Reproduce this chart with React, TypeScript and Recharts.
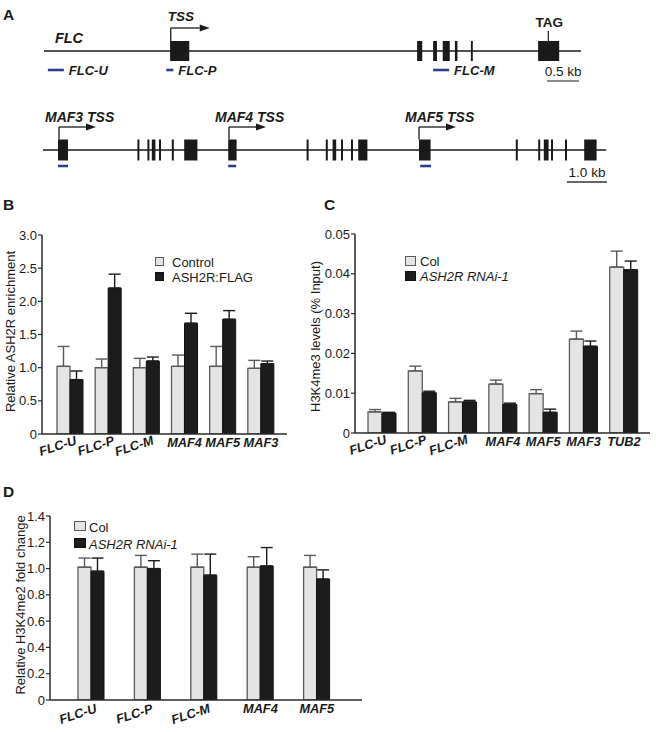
import React from 'react';
import {
  ComposedChart, BarChart, Bar, Line, XAxis, YAxis, ErrorBar, Legend,
  ReferenceArea, ReferenceLine, ReferenceDot,
} from 'recharts';

const FONT = '"Liberation Sans", Arial, Helvetica, sans-serif';
const INK = '#1a1a1a';
const AXIS = '#2a2a2a';
const PRIMER = '#2f3d8f';
const LIGHT = '#e4e4e4';
const LIGHT_EDGE = '#5a5a5a';
const DARK = '#1c1c1c';

// ---------------- Panel A : FLC locus (kb) ----------------
const flcLengthKb = 8.39;
const flcExons = [[1.97, 2.27], [5.83, 5.91], [6.08, 6.14], [6.23, 6.34], [6.42, 6.46], [6.67, 6.7], [7.72, 8.05]];
const flcPrimerNames = ['FLC-U', 'FLC-P', 'FLC-M'];
const flcPrimerStarts = [0.06, 1.91, 6.08];
const flcPrimerEnds = [0.31, 2.02, 6.33];
const flcTssLabels = ['TSS'];
const flcTssKb = [1.98];
const flcTagKb = 7.88;
const flcScaleBar = [7.86, 8.36];

// ---------------- Panel A : MAF3-MAF5 cluster (kb) ----------------
const mafLengthKb = 14.08;
const mafExons = [
  [0.375, 0.625], [2.36, 2.41], [2.61, 2.66], [2.72, 2.81], [2.9, 2.95], [3.22, 3.27], [3.53, 3.86],
  [4.63, 4.84], [6.59, 6.64], [7.07, 7.12], [7.24, 7.33], [7.45, 7.5], [7.7, 7.75], [7.88, 8.11],
  [9.4, 9.69], [11.82, 11.87], [12.38, 12.43], [12.52, 12.64], [12.7, 12.75], [13.05, 13.1], [13.53, 13.84],
];
const mafPrimerNames = ['', '', ''];
const mafPrimerStarts = [0.375, 4.63, 9.43];
const mafPrimerEnds = [0.625, 4.83, 9.7];
const mafTssLabels = ['MAF3 TSS', 'MAF4 TSS', 'MAF5 TSS'];
const mafTssKb = [0.4, 4.65, 9.4];
const mafScaleBar = [13.1, 14.1];

// ---------------- Panel B ----------------
const bCategories = ['FLC-U', 'FLC-P', 'FLC-M', 'MAF4', 'MAF5', 'MAF3'];
const bControl = [1.02, 1.0, 1.0, 1.02, 1.02, 0.99];
const bControlErr = [0.3, 0.13, 0.14, 0.17, 0.3, 0.12];
const bFlag = [0.82, 2.2, 1.1, 1.67, 1.73, 1.06];
const bFlagErr = [0.13, 0.21, 0.06, 0.15, 0.13, 0.04];
const bTicks = [0, 0.5, 1, 1.5, 2, 2.5, 3];

// ---------------- Panel C ----------------
const cCategories = ['FLC-U', 'FLC-P', 'FLC-M', 'MAF4', 'MAF5', 'MAF3', 'TUB2'];
const cCol = [0.0053, 0.0156, 0.0078, 0.0123, 0.0099, 0.0236, 0.0417];
const cColErr = [0.0006, 0.0012, 0.0009, 0.001, 0.001, 0.002, 0.004];
const cRnai = [0.005, 0.0101, 0.0078, 0.0072, 0.0052, 0.0218, 0.041];
const cRnaiErr = [0.0002, 0.0004, 0.0004, 0.0003, 0.0008, 0.0013, 0.0022];
const cTicks = [0, 0.01, 0.02, 0.03, 0.04, 0.05];

// ---------------- Panel D ----------------
const dCategories = ['FLC-U', 'FLC-P', 'FLC-M', 'MAF4', 'MAF5'];
const dCol = [1.01, 1.01, 1.01, 1.01, 1.01];
const dColErr = [0.07, 0.09, 0.1, 0.08, 0.09];
const dRnai = [0.98, 1.0, 0.95, 1.02, 0.92];
const dRnaiErr = [0.1, 0.06, 0.16, 0.14, 0.07];
const dTicks = [0, 0.2, 0.4, 0.6, 0.8, 1.0, 1.2, 1.4];

const bData = bCategories.map((name, i) => ({
  name, a: bControl[i], aErr: [0, bControlErr[i]], b: bFlag[i], bErr: [0, bFlagErr[i]],
}));
const cData = cCategories.map((name, i) => ({
  name, a: cCol[i], aErr: [0, cColErr[i]], b: cRnai[i], bErr: [0, cRnaiErr[i]],
}));
const dData = dCategories.map((name, i) => ({
  name, a: dCol[i], aErr: [0, dColErr[i]], b: dRnai[i], bErr: [0, dRnaiErr[i]],
}));

const labelStyle = (size: number, bold: boolean, italic: boolean) => ({
  fontFamily: FONT, fontSize: size, fontWeight: bold ? 'bold' : 'normal',
  fontStyle: italic ? 'italic' : 'normal', fill: INK,
});

const textShape = (txt: string, dx: number, dy: number, size: number, bold: boolean, italic: boolean, anchor = 'start') =>
  (p: any) => (
    <text x={p.cx + dx} y={p.cy + dy} textAnchor={anchor} {...labelStyle(size, bold, italic)}>{txt}</text>
  );

const arrowHead = (p: any) => (
  <polygon points={`${p.cx - 10},${p.cy - 3.5} ${p.cx},${p.cy} ${p.cx - 10},${p.cy + 3.5}`} fill={INK} />
);

type TrackProps = {
  top: number; height: number; lineY: number; leftPx: number; pxPerKb: number; lengthKb: number;
  exons: number[][]; exonHalf: number;
  primerStarts: number[]; primerEnds: number[]; primerNames: string[]; primerDy: number;
  tssKb: number[]; tssLabels: string[]; arrowRise: number; arrowTipKb: number; tssDx: number; tssDy: number; tssFont: number;
  scaleBar: number[]; scaleLabel: string; scaleDy: number; scaleTextDy: number; scaleWidth: number;
  geneName?: string; geneNameKb?: number; tagKb?: number;
};

function GeneTrack(t: TrackProps) {
  const W = 656;
  const domainX = [-t.leftPx / t.pxPerKb, (W - t.leftPx) / t.pxPerKb];
  const data = [{ kb: 0, y: 0 }, { kb: t.lengthKb, y: 0 }];
  const headKb = 10 / t.pxPerKb;
  return (
    <div style={{ position: 'absolute', left: 0, top: t.top }}>
      <ComposedChart width={W} height={t.height} data={data} margin={{ top: 0, right: 0, bottom: 0, left: 0 }}>
        <XAxis dataKey="kb" type="number" domain={domainX} allowDataOverflow hide />
        <YAxis type="number" domain={[-t.lineY, t.height - t.lineY]} allowDataOverflow reversed hide />
        <Line dataKey="y" stroke={INK} strokeWidth={1.5} dot={false} activeDot={false} isAnimationActive={false} />
        {t.exons.map((e, i) => (
          <ReferenceArea key={'ex' + i} x1={e[0]} x2={e[1]} y1={-t.exonHalf} y2={t.exonHalf}
            fill={INK} fillOpacity={1} stroke="none" ifOverflow="visible" />
        ))}
        {t.primerStarts.map((s, i) => (
          <ReferenceLine key={'pr' + i} segment={[{ x: s, y: t.primerDy }, { x: t.primerEnds[i], y: t.primerDy }]}
            stroke={PRIMER} strokeWidth={2.6} ifOverflow="visible" />
        ))}
        {t.primerNames.map((n, i) => n ? (
          <ReferenceDot key={'pl' + i} x={t.primerEnds[i]} y={t.primerDy} r={0} ifOverflow="visible"
            shape={textShape(n, 5, 4.5, 13, true, true)} />
        ) : null)}
        {t.tssKb.map((k, i) => (
          <ReferenceLine key={'tv' + i} segment={[{ x: k, y: -t.exonHalf }, { x: k, y: -t.arrowRise }]}
            stroke={INK} strokeWidth={1.3} ifOverflow="visible" />
        ))}
        {t.tssKb.map((k, i) => (
          <ReferenceLine key={'th' + i} segment={[{ x: k, y: -t.arrowRise }, { x: k + t.arrowTipKb - headKb, y: -t.arrowRise }]}
            stroke={INK} strokeWidth={1.3} ifOverflow="visible" />
        ))}
        {t.tssKb.map((k, i) => (
          <ReferenceDot key={'ta' + i} x={k + t.arrowTipKb} y={-t.arrowRise} r={0} ifOverflow="visible" shape={arrowHead} />
        ))}
        {t.tssKb.map((k, i) => (
          <ReferenceDot key={'tl' + i} x={k} y={-t.arrowRise} r={0} ifOverflow="visible"
            shape={textShape(t.tssLabels[i], t.tssDx, t.tssDy, t.tssFont, true, true)} />
        ))}
        {t.geneName && t.geneNameKb !== undefined ? (
          <ReferenceDot x={t.geneNameKb} y={-8} r={0} ifOverflow="visible" shape={textShape(t.geneName, 0, 0, 14.5, true, true)} />
        ) : null}
        {t.tagKb !== undefined ? (
          <ReferenceLine segment={[{ x: t.tagKb, y: -t.exonHalf }, { x: t.tagKb, y: -t.exonHalf - 10 }]}
            stroke={INK} strokeWidth={1.2} ifOverflow="visible" />
        ) : null}
        {t.tagKb !== undefined ? (
          <ReferenceDot x={t.tagKb} y={-t.exonHalf - 10} r={0} ifOverflow="visible"
            shape={textShape('TAG', 1, -4, 13.5, true, false, 'middle')} />
        ) : null}
        <ReferenceLine segment={[{ x: t.scaleBar[0], y: t.scaleDy }, { x: t.scaleBar[1], y: t.scaleDy }]}
          stroke="#666" strokeWidth={t.scaleWidth} ifOverflow="visible" />
        <ReferenceDot x={(t.scaleBar[0] + t.scaleBar[1]) / 2} y={t.scaleDy} r={0} ifOverflow="visible"
          shape={textShape(t.scaleLabel, 0, t.scaleTextDy - t.scaleDy, 13.5, false, false, 'middle')} />
      </ComposedChart>
    </div>
  );
}

const X_FONT = 12.8;

const renderXTick = (rotDx: number, rotDy: number, flatDy: number) => (p: any) => {
  const v = String(p.payload.value);
  const st = labelStyle(X_FONT, true, true);
  if (v.startsWith('FLC')) {
    const tx = p.x + rotDx;
    const ty = p.y + rotDy;
    return <text x={tx} y={ty} transform={`rotate(-18 ${tx} ${ty})`} textAnchor="middle" {...st}>{v}</text>;
  }
  return <text x={p.x} y={p.y + flatDy} textAnchor="middle" {...st}>{v}</text>;
};

const renderYTick = (decimals: number) => (p: any) => {
  const v = Number(p.payload.value);
  const txt = v === 0 ? '0' : v.toFixed(decimals);
  return <text x={p.x} y={p.y + 4.6} textAnchor="end" {...labelStyle(13, false, false)}>{txt}</text>;
};

type Series = { name: string; fill: string; stroke: string; italic: boolean };

const legendContent = (series: Series[], sw: number, sh: number, gap: number, row: number) => () => (
  <div style={{ fontFamily: FONT, fontSize: 13, color: INK }}>
    {series.map((s, i) => (
      <div key={i} style={{ position: 'relative', height: row, lineHeight: row + 'px', whiteSpace: 'nowrap' }}>
        <span style={{
          position: 'absolute', left: 0, top: 2, width: sw, height: sh, boxSizing: 'border-box',
          background: s.fill, border: `1.2px solid ${s.stroke}`,
        }} />
        <span style={{ position: 'absolute', left: sw + gap, top: 0, fontStyle: s.italic ? 'italic' : 'normal' }}>{s.name}</span>
      </div>
    ))}
  </div>
);

type PanelProps = {
  left: number; top: number; width: number; height: number;
  margin: { top: number; right: number; bottom: number; left: number };
  yWidth: number; xHeight: number; data: any[]; series: Series[];
  yDomain: number[]; yTicks: number[]; decimals: number;
  yTitle: string; titleX: number; titleDy: number;
  padding: { left: number; right: number }; barSize: number;
  legendLeft: number; legendTop: number; sw: number; sh: number; gap: number; row: number;
  rotDx: number; rotDy: number; flatDy: number;
};

function BarPanel(p: PanelProps) {
  const titleLabel = {
    content: (lp: any) => {
      const vb = lp.viewBox || { x: 0, y: 0, width: 0, height: 0 };
      const x = vb.x + p.titleX;
      const y = vb.y + vb.height / 2 + p.titleDy;
      return (
        <text x={x} y={y} transform={`rotate(-90 ${x} ${y})`} textAnchor="middle" {...labelStyle(13, false, false)}>
          {p.yTitle}
        </text>
      );
    },
  };
  return (
    <div style={{ position: 'absolute', left: p.left, top: p.top }}>
      <BarChart width={p.width} height={p.height} data={p.data} margin={p.margin} barGap={0} barSize={p.barSize}>
        <XAxis dataKey="name" interval={0} tickLine={false} tickSize={0} tickMargin={0} height={p.xHeight}
          padding={p.padding} axisLine={{ stroke: AXIS, strokeWidth: 1.5 }}
          tick={renderXTick(p.rotDx, p.rotDy, p.flatDy)} />
        <YAxis width={p.yWidth} domain={p.yDomain} ticks={p.yTicks} interval={0} allowDataOverflow
          tickSize={4} tickMargin={1} axisLine={{ stroke: AXIS, strokeWidth: 1.5 }} tickLine={{ stroke: AXIS, strokeWidth: 1.2 }}
          tick={renderYTick(p.decimals)}
          label={titleLabel} />
        <Legend layout="vertical" align="center" verticalAlign="middle"
          wrapperStyle={{ left: p.legendLeft, top: p.legendTop, width: 160, height: 40 }}
          content={legendContent(p.series, p.sw, p.sh, p.gap, p.row)} />
        <Bar dataKey="a" name={p.series[0].name} fill={p.series[0].fill} stroke={p.series[0].stroke} strokeWidth={1.3} isAnimationActive={false}>
          <ErrorBar dataKey="aErr" width={6} stroke={LIGHT_EDGE} strokeWidth={1.4} direction="y" isAnimationActive={false} />
        </Bar>
        <Bar dataKey="b" name={p.series[1].name} fill={p.series[1].fill} stroke={p.series[1].stroke} strokeWidth={1} isAnimationActive={false}>
          <ErrorBar dataKey="bErr" width={6} stroke={INK} strokeWidth={1.4} direction="y" isAnimationActive={false} />
        </Bar>
      </BarChart>
    </div>
  );
}

const bSeries: Series[] = [
  { name: 'Control', fill: LIGHT, stroke: LIGHT_EDGE, italic: false },
  { name: 'ASH2R:FLAG', fill: DARK, stroke: '#111', italic: false },
];
const cdSeries: Series[] = [
  { name: 'Col', fill: LIGHT, stroke: LIGHT_EDGE, italic: false },
  { name: 'ASH2R RNAi-1', fill: DARK, stroke: '#111', italic: true },
];

const letter = (ch: string, left: number, top: number) => (
  <div style={{
    position: 'absolute', left, top, fontFamily: FONT, fontWeight: 'bold', fontSize: 15.5, lineHeight: 1, color: INK,
  }}>{ch}</div>
);

export default function App() {
  return (
    <div style={{ position: 'absolute', left: 0, top: 0, width: 656, height: 732, background: '#fff', overflow: 'hidden' }}>
      {letter('A', 3, 7)}
      {letter('B', 3, 197)}
      {letter('C', 324, 197)}
      {letter('D', 3, 484)}

      <GeneTrack top={0} height={95} lineY={51} leftPx={44} pxPerKb={64} lengthKb={flcLengthKb}
        exons={flcExons} exonHalf={10}
        primerStarts={flcPrimerStarts} primerEnds={flcPrimerEnds} primerNames={flcPrimerNames} primerDy={19}
        tssKb={flcTssKb} tssLabels={flcTssLabels} arrowRise={23} arrowTipKb={0.61} tssDx={-3} tssDy={-7} tssFont={13.5}
        scaleBar={flcScaleBar} scaleLabel="0.5 kb" scaleDy={30} scaleTextDy={25} scaleWidth={1.4}
        geneName="FLC" geneNameKb={0.17} tagKb={flcTagKb} />

      <GeneTrack top={95} height={100} lineY={55} leftPx={43} pxPerKb={40} lengthKb={mafLengthKb}
        exons={mafExons} exonHalf={10.5}
        primerStarts={mafPrimerStarts} primerEnds={mafPrimerEnds} primerNames={mafPrimerNames} primerDy={16}
        tssKb={mafTssKb} tssLabels={mafTssLabels} arrowRise={23} arrowTipKb={0.925} tssDx={-14} tssDy={-5} tssFont={14}
        scaleBar={mafScaleBar} scaleLabel="1.0 kb" scaleDy={32} scaleTextDy={27} scaleWidth={2} />

      <BarPanel left={0} top={195} width={330} height={280}
        margin={{ top: 40, right: 43, bottom: 0, left: 0 }} yWidth={42} xHeight={41}
        data={bData} series={bSeries} yDomain={[0, 3]} yTicks={bTicks} decimals={1}
        yTitle="Relative ASH2R enrichment" titleX={15} titleDy={-3}
        padding={{ left: 9, right: 7 }} barSize={13}
        legendLeft={155} legendTop={60} sw={9} sh={9} gap={8} row={15}
        rotDx={-11} rotDy={16} flatDy={12.5} />

      <BarPanel left={300} top={195} width={356} height={280}
        margin={{ top: 39, right: 6, bottom: 0, left: 0 }} yWidth={55} xHeight={42}
        data={cData} series={cdSeries} yDomain={[0, 0.05]} yTicks={cTicks} decimals={2}
        yTitle="H3K4me3 levels (% Input)" titleX={20} titleDy={3}
        padding={{ left: 7, right: 6 }} barSize={14}
        legendLeft={105} legendTop={59} sw={11} sh={10} gap={4} row={15}
        rotDx={-13} rotDy={16} flatDy={13} />

      <BarPanel left={0} top={480} width={420} height={252}
        margin={{ top: 36, right: 58, bottom: 0, left: 0 }} yWidth={50} xHeight={32}
        data={dData} series={cdSeries} yDomain={[0, 1.4]} yTicks={dTicks} decimals={1}
        yTitle="Relative H3K4me2 fold change" titleX={25} titleDy={-3}
        padding={{ left: 13, right: 17 }} barSize={13}
        legendLeft={74} legendTop={39} sw={12} sh={10} gap={3} row={17}
        rotDx={-12} rotDy={18} flatDy={13} />
    </div>
  );
}
